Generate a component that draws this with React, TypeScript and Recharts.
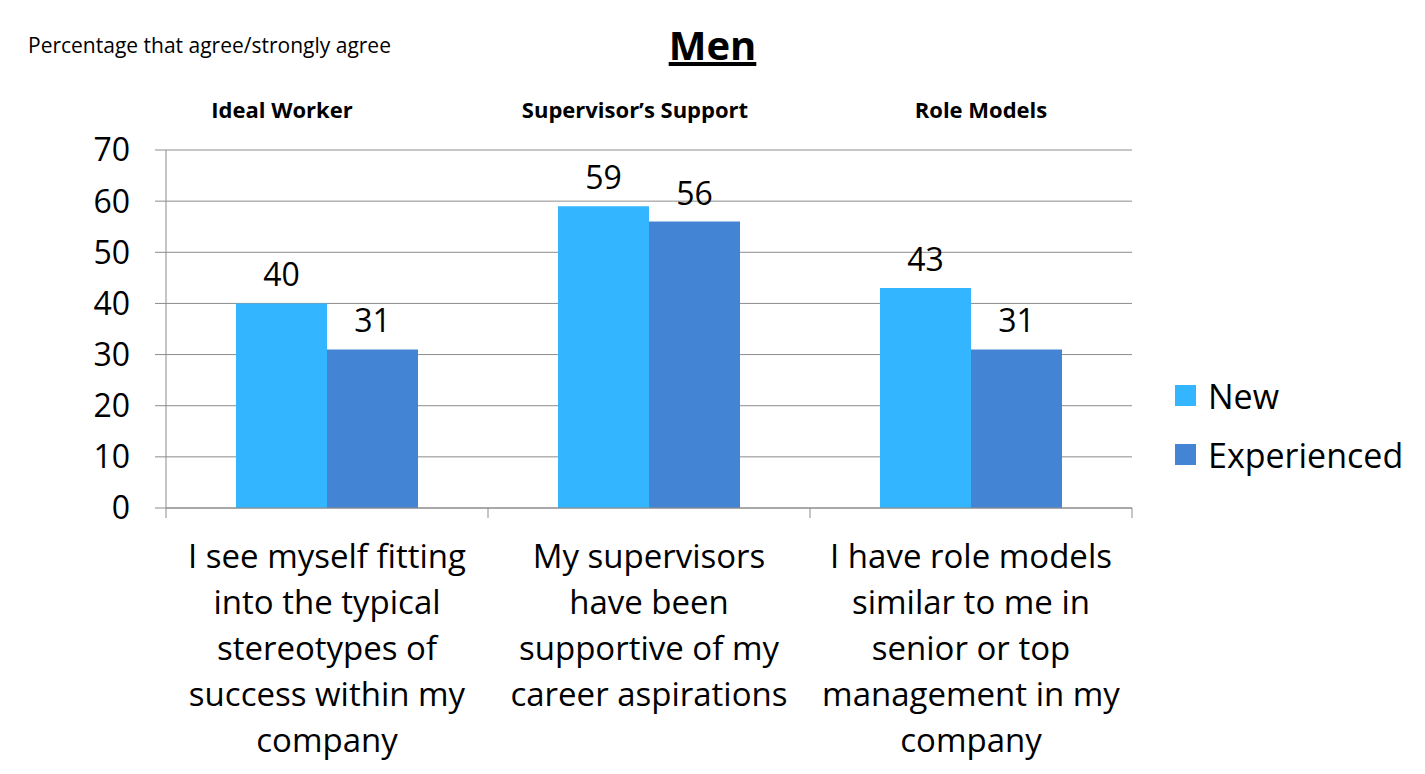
import React from "react";
import { BarChart, Bar, XAxis, YAxis, CartesianGrid, LabelList } from "recharts";

const headers = ["Ideal Worker", "Supervisor’s Support", "Role Models"];
const categoryLines = [
	["I see myself fitting", "into the typical", "stereotypes of", "success within my", "company"],
	["My supervisors", "have been", "supportive of my", "career aspirations"],
	["I have role models", "similar to me in", "senior or top", "management in my", "company"],
];
const newValues = [40, 59, 43];
const experiencedValues = [31, 56, 31];
const yTicks = [0, 10, 20, 30, 40, 50, 60, 70];
const seriesNames = ["New", "Experienced"];

const FONT = "'Open Sans', 'Noto Sans', sans-serif";
const NEW_COLOR = "#33b5ff";
const EXP_COLOR = "#4484d4";
const GRID = "#8c8c8c";
// headers in the original are separate text boxes, not exactly centred on the groups
const HEADER_SHIFT = [-45, -14, 10];

const data = headers.map((h, i) => ({
	key: "c" + i,
	header: h,
	lines: categoryLines[i],
	New: newValues[i],
	Experienced: experiencedValues[i],
}));

function BottomTick(props: any) {
	const { x, y, payload, index } = props;
	const half = payload.offset || 0;
	const lines = data[index]?.lines || [];
	const last = index === data.length - 1;
	return (
		<g>
			<line x1={x - half} x2={x - half} y1={y - 8} y2={y + 2} stroke={GRID} />
			{last && <line x1={x + half} x2={x + half} y1={y - 8} y2={y + 2} stroke={GRID} />}
			<text x={x} y={y} textAnchor="middle" fontFamily={FONT} fontSize={33} fill="#000">
				{lines.map((l, i) => (
					<tspan key={i} x={x} dy={i === 0 ? 52 : 46}>{l}</tspan>
				))}
			</text>
		</g>
	);
}

function TopTick(props: any) {
	const { x, y, index } = props;
	return (
		<text x={x + (HEADER_SHIFT[index] || 0)} y={y} dy={-24} textAnchor="middle" fontFamily={FONT} fontSize={22} fontWeight={700} fill="#000">
			{data[index]?.header}
		</text>
	);
}

export default function App() {
	const colors = [NEW_COLOR, EXP_COLOR];
	return (
		<div style={{ position: "absolute", left: 0, top: 0, width: 1425, height: 774, background: "#fff" }}>
			<div style={{ position: "absolute", left: 28, top: 31, fontFamily: FONT, fontSize: 21, color: "#000" }}>
				Percentage that agree/strongly agree
			</div>
			<div style={{ position: "absolute", left: 0, width: 1425, top: 17, textAlign: "center", fontFamily: FONT, fontSize: 40, fontWeight: 700, textDecoration: "underline", color: "#000" }}>
				Men
			</div>
			<BarChart
				width={1425}
				height={774}
				data={data}
				margin={{ top: 90, right: 293, bottom: 0, left: 0 }}
				barCategoryGap={70}
				barGap={0}
			>
				<CartesianGrid vertical={false} stroke={GRID} />
				<XAxis xAxisId="top" orientation="top" dataKey="key" height={60} axisLine={false} tickLine={false} tick={<TopTick />} />
				<XAxis dataKey="key" height={266} axisLine={{ stroke: GRID }} tickLine={false} tick={<BottomTick />} />
				<YAxis
					width={166}
					domain={[0, 70]}
					ticks={yTicks}
					interval={0}
					axisLine={{ stroke: GRID }}
					tickLine={{ stroke: GRID }}
					tickSize={11}
					tickMargin={25}
					tick={{ fontFamily: FONT, fontSize: 32, fill: "#000" }}
				/>
				<Bar dataKey="New" fill={NEW_COLOR} isAnimationActive={false}>
					<LabelList dataKey="New" position="top" offset={17} style={{ fontFamily: FONT, fontSize: 32, fill: "#000" }} />
				</Bar>
				<Bar dataKey="Experienced" fill={EXP_COLOR} isAnimationActive={false}>
					<LabelList dataKey="Experienced" position="top" offset={17} style={{ fontFamily: FONT, fontSize: 32, fill: "#000" }} />
				</Bar>
			</BarChart>
			{/* legend */}
			<div style={{ position: "absolute", left: 1175, top: 366, fontFamily: FONT }}>
				{seriesNames.map((name, i) => (
					<div key={name} style={{ display: "flex", alignItems: "center", height: 59 }}>
						<span style={{ width: 21, height: 21, background: colors[i], display: "inline-block", marginRight: 12 }} />
						<span style={{ fontSize: 34, color: "#000" }}>{name}</span>
					</div>
				))}
			</div>
		</div>
	);
}
